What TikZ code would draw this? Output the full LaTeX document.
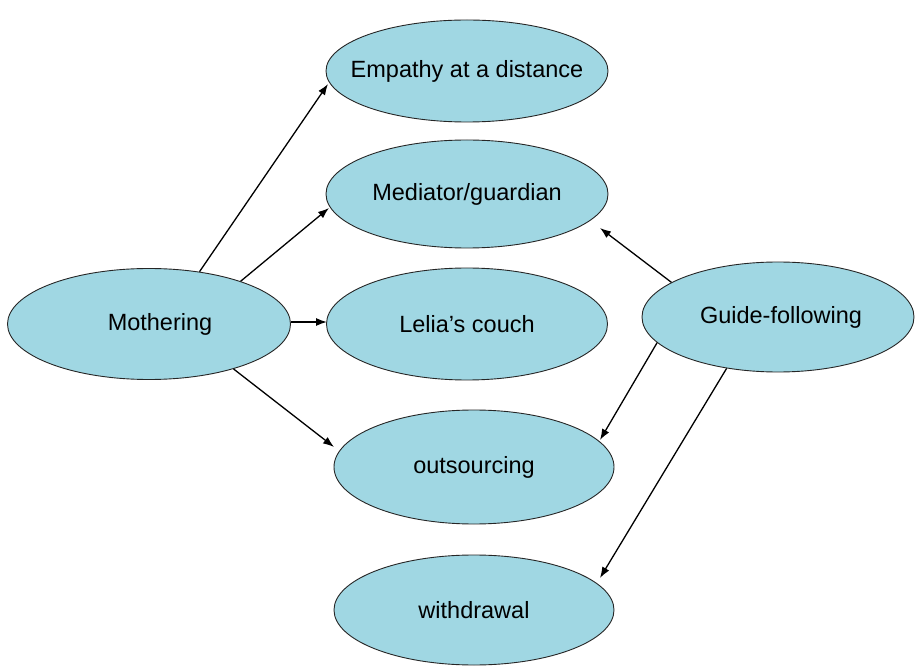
\documentclass[tikz,border=0pt]{standalone}
\usepackage{fontspec}
\setmainfont{Liberation Sans}
\usetikzlibrary{shapes.geometric,arrows.meta}
\definecolor{bub}{RGB}{160,215,227}
\newcommand{\zw}[1]{\makebox[0pt]{#1}}
\tikzset{
  bubble/.style={ellipse, draw=black!85, line width=0.9pt, fill=bub, inner sep=0pt,
    font=\fontsize{23.5}{26}\selectfont},
  link/.style={line width=1.3pt, -{Latex[length=11pt,width=8pt]}}
}
\begin{document}
\begin{tikzpicture}[x=1pt,y=-1pt]
\useasboundingbox[fill=white] (0,0) rectangle (916,668);
\node[bubble, minimum width=282, minimum height=102] (emp) at (467,71) {\zw{Empathy at a distance}};
\node[bubble, minimum width=282, minimum height=108] (med) at (467,194) {\zw{Mediator/guardian}};
\node[bubble, minimum width=281, minimum height=112] (lel) at (467,324) {\zw{Lelia’s couch}};
\node[bubble, minimum width=280, minimum height=114] (out) at (474,467) {\zw{outsourcing}};
\node[bubble, minimum width=280, minimum height=110] (wit) at (474,610) {\zw{withdrawal}};
\node[bubble, minimum width=283, minimum height=111] (mo) at (149,324) {\zw{\hspace{22pt}Mothering}};
\node[bubble, minimum width=272, minimum height=110] (gf) at (778,317) {\zw{\hspace{6pt}Guide-following}};
\coordinate (t1) at (328,84);
\coordinate (t2) at (329,208);
\coordinate (t3) at (327,322);
\coordinate (t4) at (334,447);
\coordinate (t5) at (600,228);
\coordinate (t6) at (600,440);
\coordinate (t7) at (600,578);
\draw[link] (mo.46) -- (t1);
\draw[link] (mo.25) -- (t2);
\draw[link] (mo.east |- t3) -- (t3);
\draw[link] (mo.-28) -- (t4);
\draw[link] (gf.162) -- (t5);
\draw[link] (gf.192) -- (t6);
\draw[link] (gf.225) -- (t7);
\end{tikzpicture}
\end{document}
